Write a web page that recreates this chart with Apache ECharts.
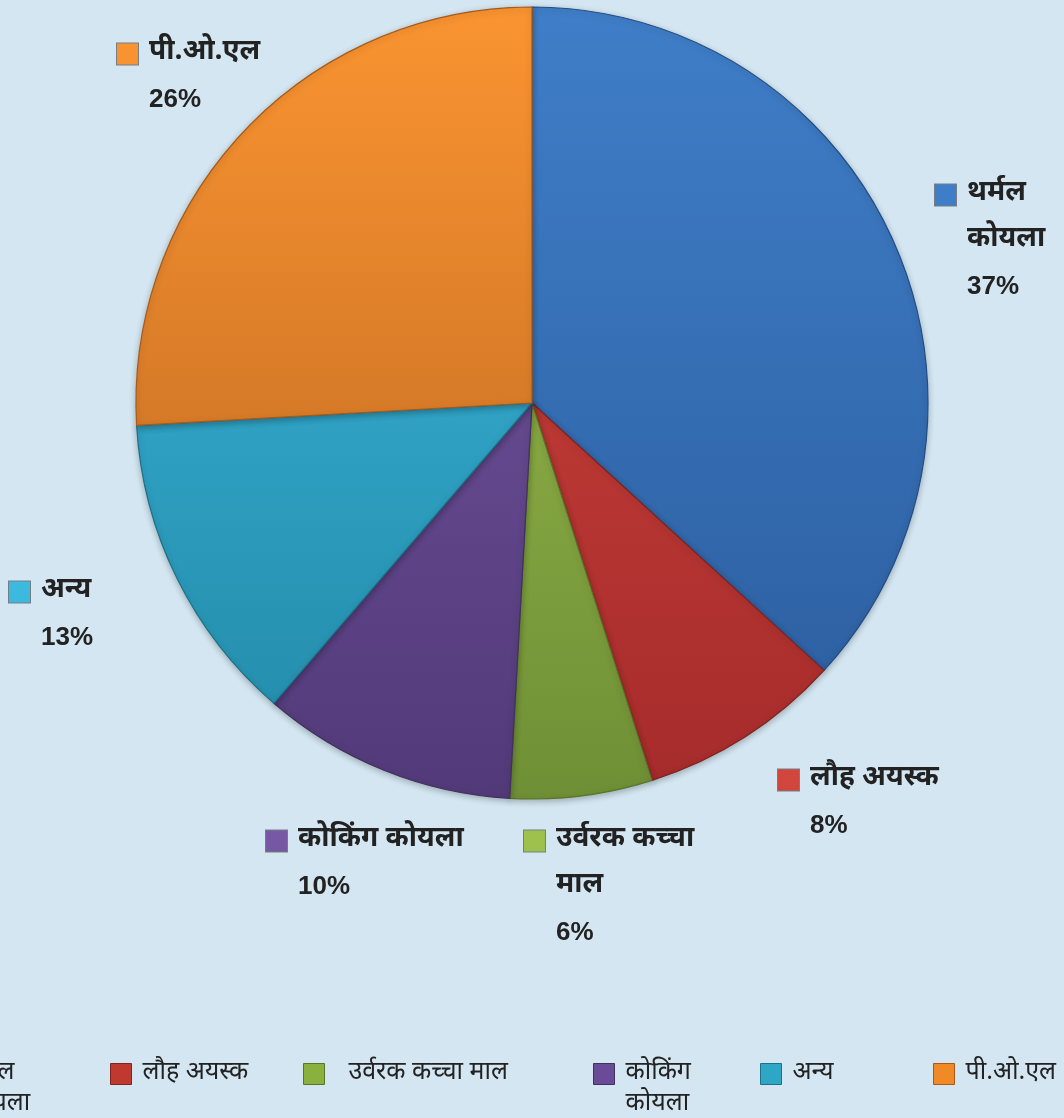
<!DOCTYPE html>
<html><head><meta charset="utf-8">
<script src="https://cdn.jsdelivr.net/npm/echarts@6/dist/echarts.min.js"></script>
<style>html,body{margin:0;padding:0;background:#d3e6f1;}#c{width:1064px;height:1118px;}</style>
</head><body><div id="c"></div>
<script>
var categories = ['थर्मल कोयला', 'लौह अयस्क', 'उर्वरक कच्चा माल', 'कोकिंग कोयला', 'अन्य', 'पी.ओ.एल'];
var labelNames = ['थर्मल\nकोयला', 'लौह अयस्क', 'उर्वरक कच्चा\nमाल', 'कोकिंग कोयला', 'अन्य', 'पी.ओ.एल'];
var legendNames = ['थर्मल\nकोयला', 'लौह अयस्क', '  उर्वरक कच्चा माल', 'कोकिंग\nकोयला', 'अन्य', 'पी.ओ.एल'];
var values = [36.8, 8.3, 5.8, 10.4, 12.8, 25.9];

var topColors = ['#3f7ec8', '#d3463d', '#9fc24e', '#7658a4', '#3dbadf', '#fa9431'];
var botColors = ['#2b5c9d', '#a52b2b', '#6f8f36', '#523a79', '#2289a8', '#b56220'];
var iconColors = ['#3470b8', '#c0392f', '#8ab03e', '#6a4b97', '#2ea7c7', '#ef8a27'];
var edges = ['#234d85', '#7f2420', '#5a7526', '#42305f', '#1d7088', '#a85a18'];

// label anchors (left edge of key, centre of first text line) and legend placement
var labelAnchor = [[935, 195], [778, 780], [524, 841], [266, 841], [9, 592], [117, 54]];
var legendLeft = [-66, 110, 303, 593, 760, 933];

var FONT = '"Noto Sans Devanagari", "Liberation Sans", Arial, sans-serif';
var NUMFONT = '"Liberation Sans", Arial, sans-serif';
var CX = 532, CY = 403, R = 396;
var LINE = 46;

var data = categories.map(function (name, i) {
  return {
    name: name,
    value: values[i],
    itemStyle: {
      color: {
        type: 'linear', x: 0, y: CY - R, x2: 0, y2: CY + R, global: true,
        colorStops: [
          { offset: 0, color: topColors[i] },
          { offset: 1, color: botColors[i] }
        ]
      },
      borderColor: edges[i],
      borderWidth: 1.2
    }
  };
});

var legends = categories.map(function (name, i) {
  var twoLine = legendNames[i].indexOf('\n') >= 0;
  var iconCenter = 1074;
  return {
    data: [{ name: name, itemStyle: { color: iconColors[i], borderColor: edges[i], borderWidth: 1 } }],
    left: legendLeft[i],
    top: twoLine ? iconCenter - 46.5 : iconCenter - 15.5,
    orient: 'horizontal',
    icon: 'rect',
    itemWidth: 21,
    itemHeight: 21,
    itemGap: 0,
    padding: 0,
    textStyle: {
      fontFamily: FONT, fontSize: 25, color: '#222', lineHeight: 31,
      padding: [0, 0, 0, 6]
    },
    formatter: function () { return twoLine ? '\n' + legendNames[i] : legendNames[i]; },
    selectedMode: false
  };
});

var chart = echarts.init(document.getElementById('c'), null, { renderer: 'canvas' });
chart.setOption({
  backgroundColor: '#d3e6f1',
  animation: false,
  legend: legends,
  series: [{
    type: 'pie',
    center: [CX, CY],
    radius: [0, R],
    startAngle: 90,
    clockwise: true,
    percentPrecision: 0,
    data: data,
    itemStyle: { shadowBlur: 6, shadowColor: 'rgba(0,0,0,0.25)', shadowOffsetY: 2 },
    labelLine: { show: false },
    label: {
      show: true,
      position: 'outside',
      overflow: 'none',
      align: 'left',
      formatter: function (p) {
        return '{icon|}{sp|}{name|' + labelNames[p.dataIndex].split('\n').join('}\n{sp2|}{name|') + '}\n{sp2|}{pct|' + p.percent + '%}';
      },
      rich: {
        icon: { width: 21, height: 21, backgroundColor: 'inherit', borderColor: 'rgba(0,0,0,0.45)', borderWidth: 1 },
        sp: { width: 11 },
        sp2: { width: 32 },
        name: { fontFamily: FONT, fontSize: 28, fontWeight: 'bold', color: '#222', lineHeight: LINE },
        pct: { fontFamily: NUMFONT, fontSize: 26, fontWeight: 'bold', color: '#222', lineHeight: LINE }
      }
    },
    labelLayout: function (p) {
      var a = labelAnchor[p.dataIndex];
      return { x: a[0], y: a[1] - LINE / 2, align: 'left', verticalAlign: 'top' };
    }
  }]
});
</script></body></html>
